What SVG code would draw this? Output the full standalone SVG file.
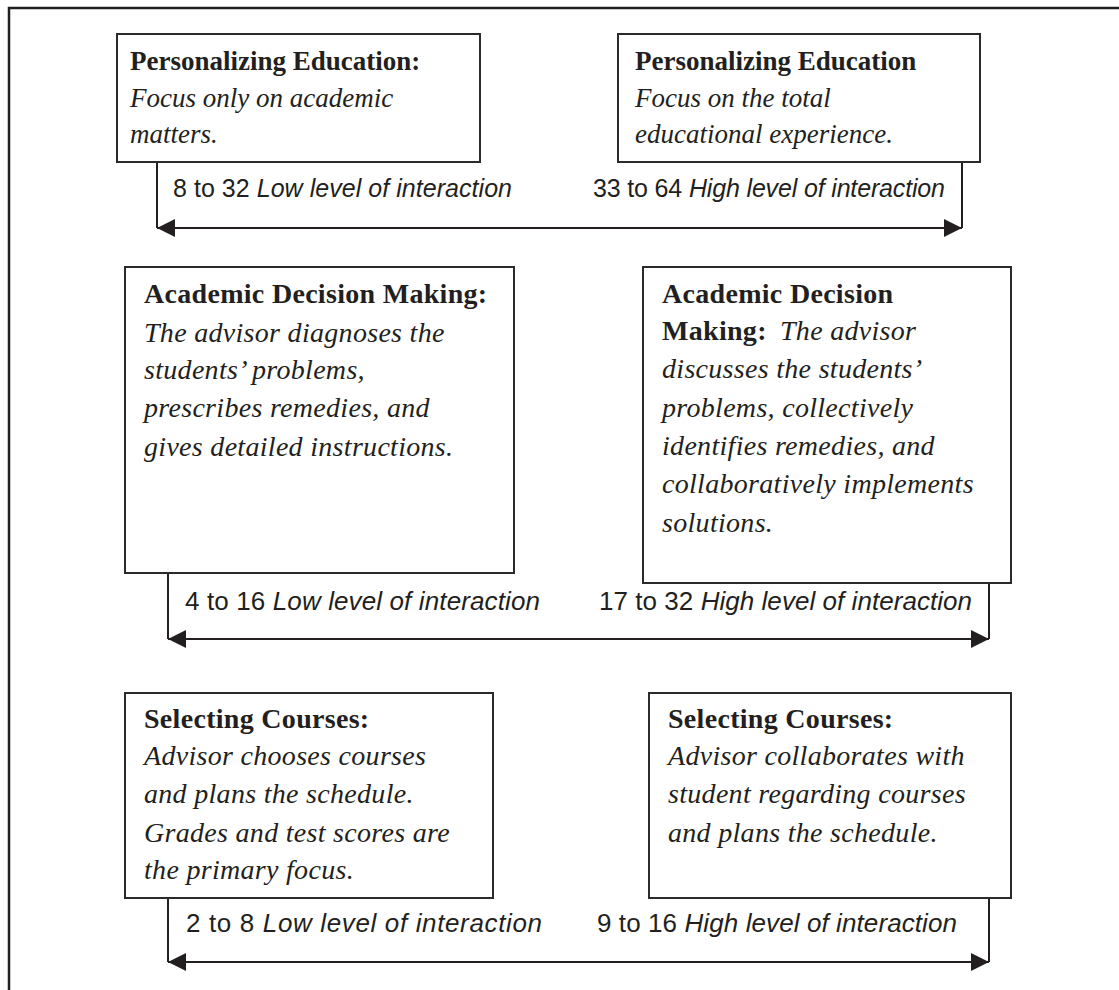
<svg xmlns="http://www.w3.org/2000/svg" width="1119" height="990" viewBox="0 0 1119 990">
<style>
.box{fill:#fff;stroke:#2b2b2b;stroke-width:2}
.t{font-family:"Liberation Serif","Times New Roman",serif;font-size:27px;fill:#231f20}
.w{font-size:28px;letter-spacing:0.3px}
.b{font-weight:bold}
.i{font-style:italic}
.lab{font-family:"Liberation Sans",Arial,sans-serif;font-size:25px;fill:#231f20}
.lab2{font-size:26px}
.con{fill:none;stroke:#231f20;stroke-width:2}
</style>
<defs>
<marker id="ah" viewBox="0 0 18 18" refX="18" refY="9" markerWidth="18" markerHeight="18" markerUnits="userSpaceOnUse" orient="auto-start-reverse">
<path d="M0,0 L18,9 L0,18 Z" fill="#231f20"/>
</marker>
</defs>
<rect width="1119" height="990" fill="#fff"/>
<path d="M9,990 V8 H1119" fill="none" stroke="#231f20" stroke-width="2.5"/>

<g id="connectors">
<path class="con" d="M157,162 V228"/>
<path class="con" d="M962,162 V228"/>
<path class="con" d="M157,228 H962" marker-start="url(#ah)" marker-end="url(#ah)"/>
<path class="con" d="M168,573 V639"/>
<path class="con" d="M989,583 V639"/>
<path class="con" d="M168,639 H989" marker-start="url(#ah)" marker-end="url(#ah)"/>
<path class="con" d="M168,898 V962"/>
<path class="con" d="M989,898 V962"/>
<path class="con" d="M168,962 H989" marker-start="url(#ah)" marker-end="url(#ah)"/>
<text class="lab" x="173" y="197" textLength="339" lengthAdjust="spacing">8 to 32 <tspan font-style="italic">Low level of interaction</tspan></text>
<text class="lab" x="593" y="197" textLength="352" lengthAdjust="spacing">33 to 64 <tspan font-style="italic">High level of interaction</tspan></text>
<text class="lab lab2" x="185" y="610" textLength="355" lengthAdjust="spacing">4 to 16 <tspan font-style="italic">Low level of interaction</tspan></text>
<text class="lab lab2" x="599" y="610" textLength="373" lengthAdjust="spacing">17 to 32 <tspan font-style="italic">High level of interaction</tspan></text>
<text class="lab lab2" x="186" y="932" textLength="356" lengthAdjust="spacing">2 to 8 <tspan font-style="italic">Low level of interaction</tspan></text>
<text class="lab lab2" x="597" y="932" textLength="360" lengthAdjust="spacing">9 to 16 <tspan font-style="italic">High level of interaction</tspan></text>
</g>

<g id="n1">
<rect class="box" x="117" y="34" width="363" height="128"/>
<text class="t b" x="130" y="70">Personalizing Education:</text>
<text class="t i" x="130" y="107">Focus only on academic</text>
<text class="t i" x="130" y="143">matters.</text>
</g>

<g id="n2">
<rect class="box" x="618" y="34" width="362" height="128"/>
<text class="t b" x="635" y="70">Personalizing Education</text>
<text class="t i" x="635" y="107">Focus on the total</text>
<text class="t i" x="635" y="143">educational experience.</text>
</g>

<g id="n3">
<rect class="box" x="125" y="267" width="389" height="306"/>
<text class="t w b" x="144" y="303">Academic Decision Making:</text>
<text class="t w i" x="144" y="342">The advisor diagnoses the</text>
<text class="t w i" x="144" y="379">students’ problems,</text>
<text class="t w i" x="144" y="417">prescribes remedies, and</text>
<text class="t w i" x="144" y="456">gives detailed instructions.</text>
</g>

<g id="n4">
<rect class="box" x="643" y="267" width="368" height="316"/>
<text class="t w b" x="662" y="303">Academic Decision</text>
<text class="t w" x="662" y="340"><tspan font-weight="bold">Making:</tspan><tspan x="780" font-style="italic">The advisor</tspan></text>
<text class="t w i" x="662" y="378">discusses the students’</text>
<text class="t w i" x="662" y="417">problems, collectively</text>
<text class="t w i" x="662" y="455">identifies remedies, and</text>
<text class="t w i" x="662" y="493">collaboratively implements</text>
<text class="t w i" x="662" y="532">solutions.</text>
</g>

<g id="n5">
<rect class="box" x="125" y="693" width="368" height="205"/>
<text class="t w b" x="144" y="728">Selecting Courses:</text>
<text class="t w i" x="144" y="765">Advisor chooses courses</text>
<text class="t w i" x="144" y="803">and plans the schedule.</text>
<text class="t w i" x="144" y="842">Grades and test scores are</text>
<text class="t w i" x="144" y="879">the primary focus.</text>
</g>

<g id="n6">
<rect class="box" x="649" y="693" width="362" height="205"/>
<text class="t w b" x="668" y="728">Selecting Courses:</text>
<text class="t w i" x="668" y="765">Advisor collaborates with</text>
<text class="t w i" x="668" y="803">student regarding courses</text>
<text class="t w i" x="668" y="842">and plans the schedule.</text>
</g>
</svg>
